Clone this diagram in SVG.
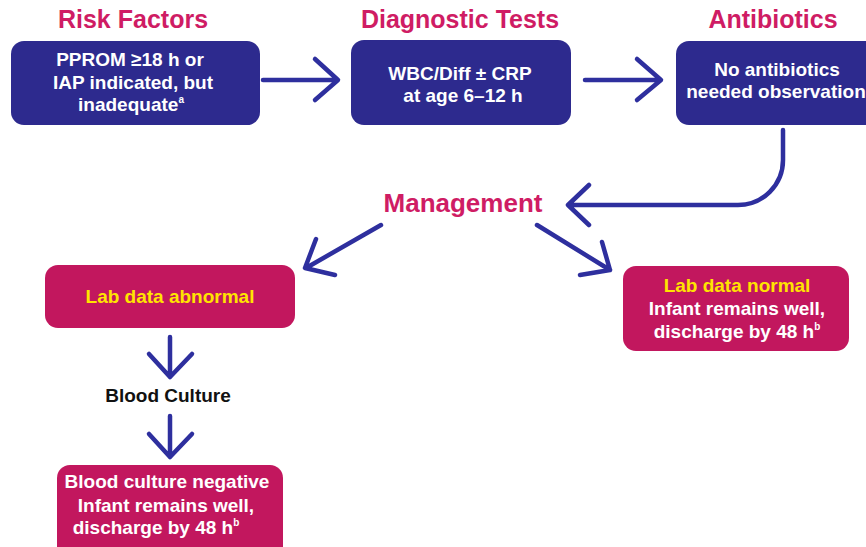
<svg xmlns="http://www.w3.org/2000/svg" width="866" height="547" viewBox="0 0 866 547">
<defs>
<style>
.title{font-family:"Liberation Sans",Arial,sans-serif;font-weight:bold;font-size:25px;fill:#CF1C64;text-anchor:middle}
.t{font-family:"Liberation Sans",Arial,sans-serif;font-weight:bold;font-size:19px;fill:#FFFFFF;text-anchor:middle}
.y{fill:#FFE400}
.k{fill:#111111}
.sup{font-size:10px}
.navy{fill:#2D2A8E}
.red{fill:#C2175E}
.arr{fill:none;stroke:#2E2F9E;stroke-width:4.5;stroke-linecap:round;stroke-linejoin:round}
</style>
</defs>
<rect width="866" height="547" fill="#FFFFFF"/>
<g id="titles">
<text class="title" x="133" y="28">Risk Factors</text>
<text class="title" x="460" y="28">Diagnostic Tests</text>
<text class="title" x="773" y="28">Antibiotics</text>
</g>
<g id="risk">
<rect class="navy" x="11" y="41" width="249" height="84" rx="13"/>
<text class="t" x="130" y="66">PPROM ≥18 h or</text>
<text class="t" x="133" y="89">IAP indicated, but</text>
<text class="t" x="131" y="111">inadequate<tspan class="sup" dy="-8">a</tspan></text>
</g>
<g id="tests">
<rect class="navy" x="351" y="40" width="220" height="85" rx="13"/>
<text class="t" x="460" y="80">WBC/Diff ± CRP</text>
<text class="t" x="463" y="102">at age 6–12 h</text>
</g>
<g id="antibiotics">
<rect class="navy" x="676" y="41" width="210" height="84" rx="13"/>
<text class="t" x="777" y="76">No antibiotics</text>
<text class="t" x="776" y="98">needed observation</text>
</g>
<g id="management">
<text class="title" x="463" y="212" style="font-size:26px">Management</text>
</g>
<g id="abnormal">
<rect class="red" x="45" y="265" width="250" height="63" rx="13"/>
<text class="t y" x="170" y="303">Lab data abnormal</text>
</g>
<g id="bloodculture">
<text class="t k" x="168" y="402">Blood Culture</text>
</g>
<g id="negative">
<rect class="red" x="57" y="465" width="226" height="95" rx="13"/>
<text class="t" x="167" y="488">Blood culture negative</text>
<text class="t" x="166" y="512">Infant remains well,</text>
<text class="t" x="156" y="534">discharge by 48 h<tspan class="sup" dy="-8">b</tspan></text>
</g>
<g id="normal">
<rect class="red" x="623" y="266" width="226" height="85" rx="13"/>
<text class="t y" x="737" y="292">Lab data normal</text>
<text class="t" x="737" y="315">Infant remains well,</text>
<text class="t" x="737" y="338">discharge by 48 h<tspan class="sup" dy="-8">b</tspan></text>
</g>
<g id="connectors">
<path class="arr" d="M263 80 H337 M315 59 L338 80 L315 100"/>
<path class="arr" d="M585 80 H660 M637 59 L661 80 L637 100"/>
<path class="arr" d="M783 130 V160 A45 45 0 0 1 738 205 H568 M589 185 L568 205 L589 225"/>
<path class="arr" d="M381 225 L306 268 M316 239 L305 268 L335 275"/>
<path class="arr" d="M537 225 L610 270 M602 242 L610 270 L580 275"/>
<path class="arr" d="M170 337 V377 M149 354 L170 377 L192 354"/>
<path class="arr" d="M170 416 V457 M149 434 L170 457 L192 434"/>
</g>
</svg>
